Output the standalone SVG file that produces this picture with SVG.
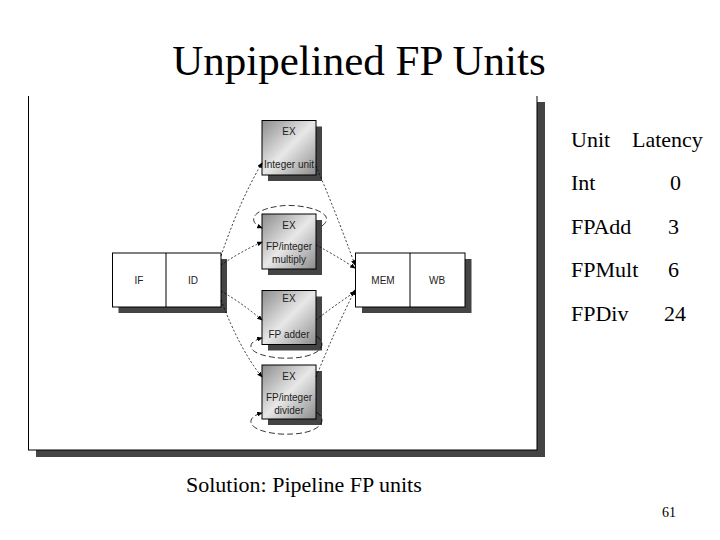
<svg xmlns="http://www.w3.org/2000/svg" width="720" height="540" viewBox="0 0 720 540">
<defs>
<linearGradient id="g" x1="0" y1="0" x2="1" y2="1"><stop offset="0" stop-color="#8c8c8c"/><stop offset="0.5" stop-color="#e8e8e8"/><stop offset="1" stop-color="#8c8c8c"/></linearGradient>
<marker id="a" markerWidth="7" markerHeight="6" refX="6" refY="3" orient="auto"><path d="M0,0 L7,3 L0,6 Z" fill="#000"/></marker>
<style>
.t{font-family:"Liberation Serif",serif;fill:#000}
.s{font-family:"Liberation Sans",Arial,sans-serif;font-size:10px;fill:#222;text-anchor:middle}
.ex{fill:url(#g);stroke:#000;stroke-width:1}
.w{fill:#fff;stroke:#000;stroke-width:1}
.sh{fill:#444}
.c{fill:none;stroke:#000;stroke-width:0.8;stroke-dasharray:2,2;marker-end:url(#a)}
.l{fill:none;stroke:#000;stroke-width:0.8;stroke-dasharray:6,3;marker-end:url(#a)}
</style>
</defs>
<rect width="720" height="540" fill="#fff"/>
<text class="t" x="359" y="75" font-size="43" text-anchor="middle">Unpipelined FP Units</text>
<g id="frame"><rect x="36" y="102" width="509" height="355" class="sh"/><rect x="28.5" y="95" width="508.5" height="355" class="w"/><rect x="27" y="90" width="512" height="6" fill="#fff"/></g>
<g id="ifid"><rect x="118.5" y="259" width="108.5" height="54" class="sh"/><rect x="112.5" y="253" width="108.5" height="54" class="w"/><line x1="166" y1="253" x2="166" y2="307" stroke="#000"/><text class="s" x="139" y="284">IF</text><text class="s" x="193" y="284">ID</text></g>
<g id="memwb"><rect x="362" y="259" width="109.5" height="54" class="sh"/><rect x="355.5" y="253" width="109.5" height="54" class="w"/><line x1="410" y1="253" x2="410" y2="307" stroke="#000"/><text class="s" x="383" y="284">MEM</text><text class="s" x="437" y="284">WB</text></g>
<g id="exint"><rect x="268" y="126.5" width="54" height="54.5" class="sh"/><rect x="262" y="120.5" width="54" height="54.5" class="ex"/><text class="s" x="289" y="135">EX</text><text class="s" x="289" y="168">Integer unit</text></g>
<g id="exmul"><rect x="268" y="220" width="54" height="55" class="sh"/><rect x="262" y="214" width="54" height="55" class="ex"/><text class="s" x="289" y="229">EX</text><text class="s" x="289" y="250">FP/integer</text><text class="s" x="289" y="263">multiply</text></g>
<g id="exadd"><rect x="268" y="296.5" width="54" height="54" class="sh"/><rect x="262" y="290.5" width="54" height="54" class="ex"/><text class="s" x="289" y="302">EX</text><text class="s" x="289" y="338">FP adder</text></g>
<g id="exdiv"><rect x="268" y="371" width="54" height="54" class="sh"/><rect x="262" y="365" width="54" height="54" class="ex"/><text class="s" x="289" y="380">EX</text><text class="s" x="289" y="401">FP/integer</text><text class="s" x="289" y="414">divider</text></g>
<g id="connectors">
<path class="c" d="M221,256 Q240,200 262,163"/>
<path class="c" d="M221,265 Q240,252 262,242"/>
<path class="c" d="M221,291 Q242,303 262,320"/>
<path class="c" d="M221,300 Q240,350 262,377"/>
<path class="c" d="M316,166 Q335,210 355,265"/>
<path class="c" d="M316,245 Q335,255 355,268"/>
<path class="c" d="M316,320 Q335,305 355,292"/>
<path class="c" d="M316,377 Q335,330 355,290"/>
<path class="l" d="M322,226 C340,212 300,203 280,206 C250,210 248,222 262,228"/>
<path class="l" d="M316,336 C330,344 320,360 280,358 C245,355 245,342 262,338"/>
<path class="l" d="M316,412 C330,420 320,436 280,434 C245,431 245,417 262,413"/>
</g>
<g id="table" class="t" font-size="22">
<text x="571" y="147">Unit</text><text x="632" y="147">Latency</text>
<text x="571" y="190">Int</text><text x="670" y="190">0</text>
<text x="571" y="234">FPAdd</text><text x="668" y="234">3</text>
<text x="571" y="277">FPMult</text><text x="668" y="277">6</text>
<text x="571" y="321">FPDiv</text><text x="664" y="321">24</text>
</g>
<text class="t" x="186" y="492" font-size="22">Solution: Pipeline FP units</text>
<text class="t" x="662" y="517" font-size="14">61</text>
</svg>
